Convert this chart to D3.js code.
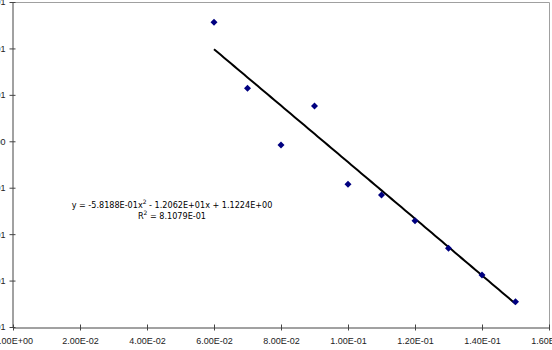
<!DOCTYPE html>
<html>
<head>
<meta charset="utf-8">
<script src="https://cdn.jsdelivr.net/npm/d3@7"></script>
<style>
  body { margin: 0; background: #fff; }
  svg { display: block; font-family: "DejaVu Sans", Verdana, sans-serif; }
</style>
</head>
<body>
<div id="chart"></div>
<script>
// data
const xValues = [0.06, 0.07, 0.08, 0.09, 0.10, 0.11, 0.12, 0.13, 0.14, 0.15];
const yValues = [0.513, 0.228, -0.016, 0.152, -0.185, -0.231, -0.342, -0.461, -0.576, -0.691];
const xTicks = [0, 0.02, 0.04, 0.06, 0.08, 0.10, 0.12, 0.14, 0.16];
const yTicks = [0.6, 0.4, 0.2, 0, -0.2, -0.4, -0.6, -0.8];
// polynomial trend line coefficients (a x^2 + b x + c)
const trendCoef = [-0.58188, -12.062, 1.1224];
const equationText = ["y = -5.8188E-01x", "2", " - 1.2062E+01x + 1.1224E+00"];
const r2Text = ["R", "2", " = 8.1079E-01"];

const width = 552;
const height = 350;
const marginTop = 2;
const marginRight = 3;
const marginBottom = 23;
const marginLeft = 13;

const svg = d3
  .select("#chart")
  .append("svg")
  .attr("width", width)
  .attr("height", height)
  .attr("viewBox", [0, 0, width, height]);

const x = d3
  .scaleLinear()
  .domain([0, 0.16])
  .range([marginLeft, width - marginRight]);

const y = d3
  .scaleLinear()
  .domain([-0.8, 0.6])
  .range([height - marginBottom, marginTop]);

// Excel style scientific labels, e.g. 2.00E-02
function sci(v) {
  if (v === 0) return "0.00E+00";
  const e = Math.floor(Math.log10(Math.abs(v)) + 1e-9);
  const m = v / Math.pow(10, e);
  const sign = e < 0 ? "-" : "+";
  return m.toFixed(2) + "E" + sign + String(Math.abs(e)).padStart(2, "0");
}

// plot area border (top and right)
svg
  .append("path")
  .attr("fill", "none")
  .attr("stroke", "#a0a0a0")
  .attr("stroke-width", 1)
  .attr("d", `M${x(0)},${y(0.6) + 0.5}H${x(0.16) + 0.5}V${y(-0.8)}`);

// x axis
const xAxis = svg
  .append("g")
  .attr("transform", `translate(0,${y(-0.8) + 0.5})`)
  .call(
    d3.axisBottom(x).tickValues(xTicks).tickFormat(sci).tickSizeInner(3).tickSizeOuter(0),
  );
xAxis.select(".domain").attr("stroke", "#444");
xAxis.selectAll(".tick line").attr("stroke", "#444").attr("y1", -3);
xAxis.selectAll("text").attr("font-size", 9).attr("fill", "#222").attr("dy", "1.15em");

// y axis
const yAxis = svg
  .append("g")
  .attr("transform", `translate(${x(0) - 0.5},0)`)
  .call(
    d3.axisLeft(y).tickValues(yTicks).tickFormat(sci).tickSizeInner(3).tickSizeOuter(0),
  );
yAxis.select(".domain").attr("stroke", "#444");
yAxis.selectAll(".tick line").attr("stroke", "#444").attr("x1", 3);
yAxis.selectAll("text").attr("font-size", 9).attr("fill", "#222").attr("x", -7);

// trend line
const trendX = d3.range(xValues[0], xValues[xValues.length - 1] + 1e-9, 0.001);
svg
  .append("path")
  .datum(trendX)
  .attr("fill", "none")
  .attr("stroke", "#000")
  .attr("stroke-width", 2)
  .attr(
    "d",
    d3
      .line()
      .x((d) => x(d))
      .y((d) => y(trendCoef[0] * d * d + trendCoef[1] * d + trendCoef[2])),
  );

// diamond markers
svg
  .append("g")
  .selectAll("path")
  .data(xValues)
  .join("path")
  .attr("fill", "#000080")
  .attr("d", "M0,-3.5L3.5,0L0,3.5L-3.5,0Z")
  .attr("transform", (d, i) => `translate(${x(d)},${y(yValues[i])})`);

// trend equation label
function label(parts, cx, cy) {
  const t = svg
    .append("text")
    .attr("x", cx)
    .attr("y", cy)
    .attr("text-anchor", "middle")
    .attr("font-size", 8.1)
    .attr("fill", "#000");
  t.append("tspan").text(parts[0]);
  t.append("tspan").attr("dy", -4).attr("font-size", 6).text(parts[1]);
  t.append("tspan").attr("dy", 4).text(parts[2]);
}
label(equationText, 172, 208);
label(r2Text, 172, 219);
</script>
</body>
</html>
